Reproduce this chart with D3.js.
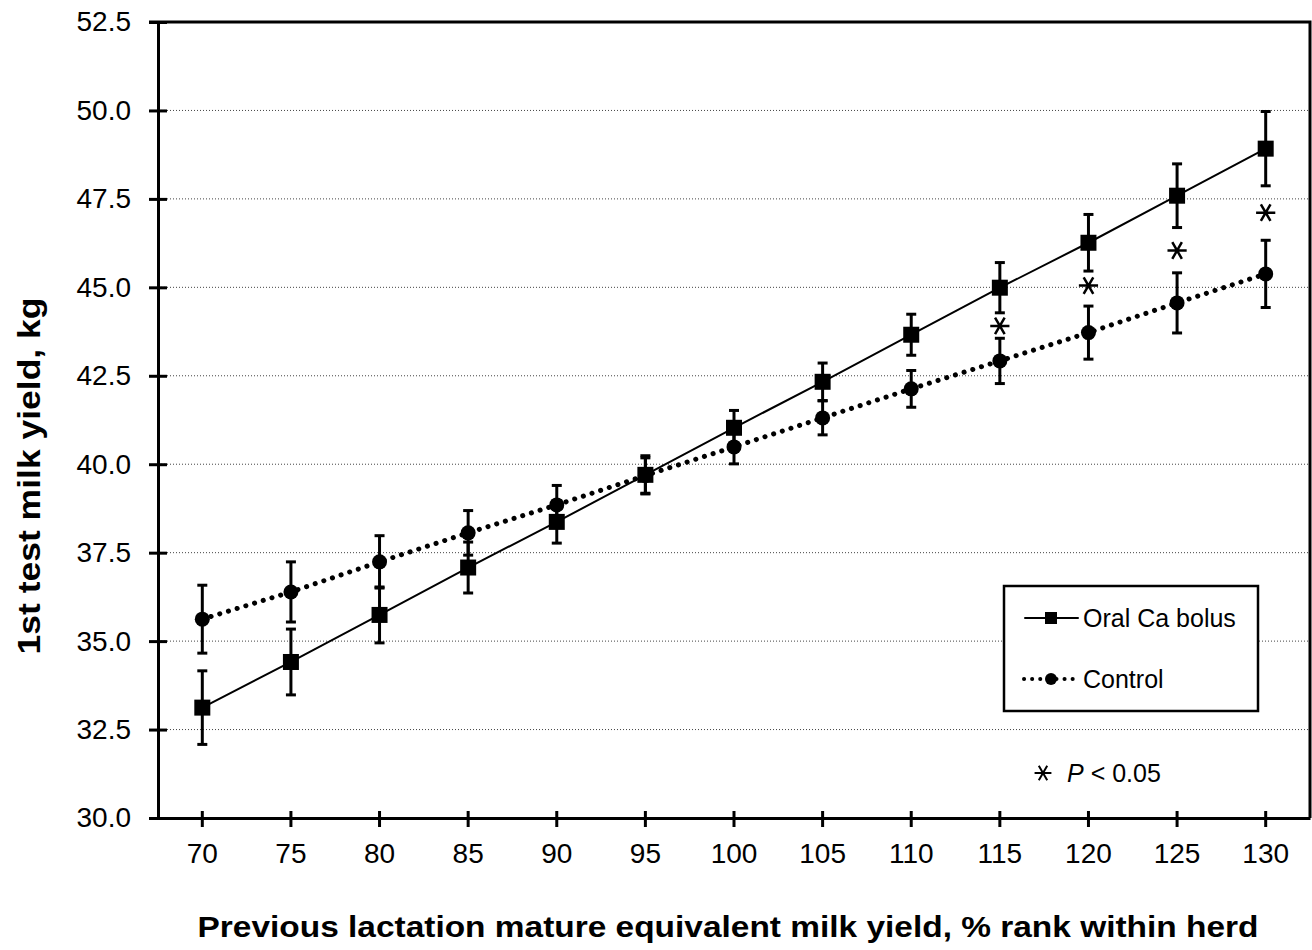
<!DOCTYPE html>
<html>
<head>
<meta charset="utf-8">
<script src="https://cdn.jsdelivr.net/npm/d3@7"></script>
<style>
body { margin: 0; background: #fff; }
text { font-family: "Liberation Sans", Arial, sans-serif; }
</style>
</head>
<body>
<div id="chart"></div>
<script>
/* 1st test milk yield by previous lactation rank */

const ranks = ["70", "75", "80", "85", "90", "95", "100", "105", "110", "115", "120", "125", "130"];
const bolus = [33.12, 34.41, 35.74, 37.08, 38.37, 39.70, 41.03, 42.33, 43.66, 44.99, 46.26, 47.59, 48.92];
const bolusSE = [1.04, 0.93, 0.79, 0.72, 0.60, 0.54, 0.49, 0.53, 0.58, 0.71, 0.80, 0.90, 1.05];
const control = [35.62, 36.39, 37.24, 38.06, 38.85, 39.68, 40.49, 41.31, 42.13, 42.92, 43.72, 44.56, 45.38];
const controlSE = [0.96, 0.85, 0.74, 0.63, 0.55, 0.50, 0.48, 0.48, 0.52, 0.64, 0.75, 0.85, 0.95];
const sigRanks = ["115", "120", "125", "130"];
const sigY = [43.91, 45.05, 46.04, 47.11];
const yTicks = [30, 32.5, 35, 37.5, 40, 42.5, 45, 47.5, 50, 52.5];

const width = 1312,
    height = 950,
    margin = ({top: 22, right: 2, bottom: 132, left: 158});

let svg = d3.select("#chart")
    .append("svg")
    .attr("width", width)
    .attr("height", height)
    .attr("viewBox", [0, 0, width, height]);

let x = d3.scaleBand()
    .domain(ranks)
    .range([margin.left, width - margin.right])
    .padding(0);

let y = d3.scaleLinear()
    .domain([30, 52.5])
    .range([height - margin.bottom, margin.top]);

const cx = r => x(r) + x.bandwidth() / 2;

// gridlines
svg.append("g")
    .selectAll("line")
    .data(yTicks.slice(1, -1))
    .join("line")
    .attr("x1", margin.left)
    .attr("x2", width - margin.right)
    .attr("y1", d => y(d))
    .attr("y2", d => y(d))
    .attr("stroke", "#444")
    .attr("stroke-width", 1)
    .attr("stroke-dasharray", "1,2");

// frame: top and right
svg.append("path")
    .attr("d", `M${margin.left - 9},${y(52.5)}H${width - margin.right}V${y(30)}`)
    .attr("fill", "none")
    .attr("stroke", "#000")
    .attr("stroke-width", 3);

const yAxis = g => g
    .attr("transform", `translate(${margin.left},0)`)
    .call(d3.axisLeft(y).tickValues(yTicks).tickFormat(d3.format(".1f"))
        .tickSize(9).tickPadding(18).tickSizeOuter(0))
    .call(g => g.select(".domain").attr("stroke-width", 3))
    .call(g => g.selectAll(".tick line").attr("x2", 9).attr("x1", -9).attr("stroke-width", 3))
    .call(g => g.selectAll("text").attr("font-size", 28).attr("fill", "#000")
        .attr("font-family", "'Liberation Sans', Arial, sans-serif"));

const xAxis = g => g
    .attr("transform", `translate(0,${height - margin.bottom})`)
    .call(d3.axisBottom(x).tickSize(9).tickPadding(16).tickSizeOuter(0))
    .call(g => g.select(".domain").attr("stroke-width", 3))
    .call(g => g.selectAll(".tick line").attr("y1", -7).attr("y2", 9).attr("stroke-width", 3))
    .call(g => g.selectAll("text").attr("font-size", 28).attr("fill", "#000")
        .attr("font-family", "'Liberation Sans', Arial, sans-serif"));

svg.append("g").call(xAxis);
svg.append("g").call(yAxis);

// axis titles
svg.append("text")
    .attr("x", 728)
    .attr("y", 937)
    .attr("text-anchor", "middle")
    .attr("font-size", 30)
    .attr("font-weight", "bold")
    .attr("textLength", 1061)
    .attr("lengthAdjust", "spacingAndGlyphs")
    .text("Previous lactation mature equivalent milk yield, % rank within herd");

svg.append("text")
    .attr("transform", "translate(40,476) rotate(-90)")
    .attr("text-anchor", "middle")
    .attr("font-size", 31)
    .attr("font-weight", "bold")
    .attr("textLength", 357)
    .attr("lengthAdjust", "spacingAndGlyphs")
    .text("1st test milk yield, kg");

// series
const series = [
    {name: "Oral Ca bolus", values: bolus, se: bolusSE, dash: null, shape: "square"},
    {name: "Control", values: control, se: controlSE, dash: "0.1 9", shape: "circle"}
];

let line = d3.line()
    .x((d, i) => cx(ranks[i]))
    .y(d => y(d));

for (let s of series) {
    svg.append("path")
        .datum(s.values)
        .attr("d", line)
        .attr("fill", "none")
        .attr("stroke", "#000")
        .attr("stroke-width", s.dash ? 5 : 2)
        .attr("stroke-linecap", "round")
        .attr("stroke-dasharray", s.dash);
}

for (let s of series) {
    let eb = svg.append("g")
        .selectAll("g")
        .data(s.values.map((v, i) => ({r: ranks[i], v: v, se: s.se[i]})))
        .join("g")
        .attr("stroke", "#000")
        .attr("stroke-width", 3);

    eb.append("line")
        .attr("x1", d => cx(d.r)).attr("x2", d => cx(d.r))
        .attr("y1", d => y(d.v - d.se)).attr("y2", d => y(d.v + d.se));
    eb.append("line")
        .attr("x1", d => cx(d.r) - 5).attr("x2", d => cx(d.r) + 5)
        .attr("y1", d => y(d.v + d.se)).attr("y2", d => y(d.v + d.se));
    eb.append("line")
        .attr("x1", d => cx(d.r) - 5).attr("x2", d => cx(d.r) + 5)
        .attr("y1", d => y(d.v - d.se)).attr("y2", d => y(d.v - d.se));
}

const marker = (g, shape) => {
    if (shape === "square") {
        g.append("rect").attr("x", -8).attr("y", -8).attr("width", 16).attr("height", 16).attr("fill", "#000");
    } else {
        g.append("circle").attr("r", 7.5).attr("fill", "#000");
    }
};

for (let s of series) {
    svg.append("g")
        .selectAll("g")
        .data(s.values)
        .join("g")
        .attr("transform", (d, i) => `translate(${cx(ranks[i])},${y(d)})`)
        .each(function() { marker(d3.select(this), s.shape); });
}

// significance stars
let star = d3.symbol().type(d3.symbolAsterisk).size(260);
svg.append("g")
    .selectAll("path")
    .data(sigY)
    .join("path")
    .attr("d", star)
    .attr("transform", (d, i) => `translate(${cx(sigRanks[i])},${y(d)}) rotate(90)`)
    .attr("fill", "none")
    .attr("stroke", "#000")
    .attr("stroke-width", 2.5);

// legend
let legend = svg.append("g");
legend.append("rect")
    .attr("x", 1004).attr("y", 586)
    .attr("width", 254).attr("height", 125)
    .attr("fill", "#fff")
    .attr("stroke", "#000")
    .attr("stroke-width", 2.5);

series.forEach((s, i) => {
    let ly = 618 + i * 61;
    legend.append("line")
        .attr("x1", s.dash ? 1024 : 1025).attr("x2", 1078)
        .attr("y1", ly).attr("y2", ly)
        .attr("stroke", "#000")
        .attr("stroke-width", s.dash ? 4 : 2)
        .attr("stroke-linecap", "round")
        .attr("stroke-dasharray", s.dash ? "0.1 8" : null);
    let m = legend.append("g").attr("transform", `translate(1051,${ly})`);
    if (s.shape === "square") {
        m.append("rect").attr("x", -6).attr("y", -6).attr("width", 12).attr("height", 12).attr("fill", "#000");
    } else {
        m.append("circle").attr("r", 6).attr("fill", "#000");
    }
    legend.append("text")
        .attr("x", 1083).attr("y", ly + 9)
        .attr("font-size", 25)
        .text(s.name);
});

// P-value note
svg.append("path")
    .attr("d", d3.symbol().type(d3.symbolAsterisk).size(200))
    .attr("transform", "translate(1043,773) rotate(90)")
    .attr("fill", "none")
    .attr("stroke", "#000")
    .attr("stroke-width", 2);

let note = svg.append("text")
    .attr("x", 1067).attr("y", 782)
    .attr("font-size", 25);
note.append("tspan").attr("font-style", "italic").text("P");
note.append("tspan").text(" < 0.05");
</script>
</body>
</html>
